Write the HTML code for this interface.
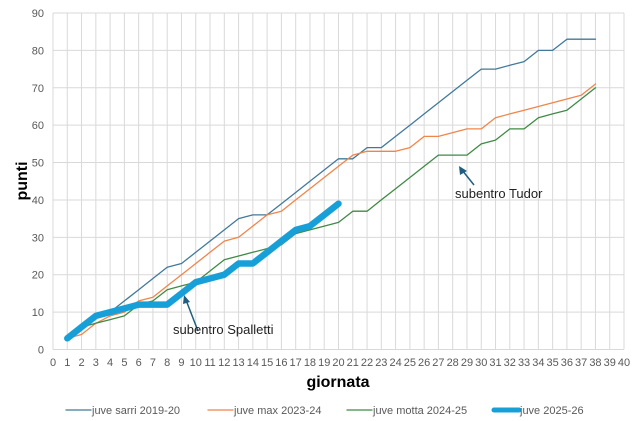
<!DOCTYPE html>
<html><head><meta charset="utf-8"><style>
body{margin:0;background:#fff;}
svg{display:block;font-family:"Liberation Sans",sans-serif;}
</style></head><body>
<svg id="c" width="640" height="421" xmlns="http://www.w3.org/2000/svg"></svg>
<script>
const s=document.getElementById('c');
const X0=53,XS=(624-53)/40,Y0=349.5,YS=(349.5-13)/90;
const px=x=>X0+x*XS, py=y=>Y0-y*YS;
let h='';
for(let i=0;i<=40;i++)h+=`<line x1="${px(i)}" y1="13" x2="${px(i)}" y2="${Y0}" stroke="#d9d9d9" stroke-width="1"/>`;
for(let j=0;j<=90;j+=10)h+=`<line x1="${X0}" y1="${py(j)}" x2="${px(40)}" y2="${py(j)}" stroke="#d9d9d9" stroke-width="1"/>`;
for(let j=0;j<=90;j+=10)h+=`<text x="${X0-9}" y="${py(j)+4}" font-size="11" fill="#595959" text-anchor="end">${j}</text>`;
for(let i=0;i<=40;i++)h+=`<text x="${px(i)}" y="366" font-size="11" fill="#595959" text-anchor="middle">${i}</text>`;
const sarri=[3,6,9,10,13,16,19,22,23,26,29,32,35,36,36,39,42,45,48,51,51,54,54,57,60,63,66,69,72,75,75,76,77,80,80,83,83,83];
const max=[3,4,7,9,10,13,14,17,20,23,26,29,30,33,36,37,40,43,46,49,52,53,53,53,54,57,57,58,59,59,62,63,64,65,66,67,68,71];
const motta=[3,6,7,8,9,12,13,16,17,18,21,24,25,26,27,28,31,32,33,34,37,37,40,43,46,49,52,52,52,55,56,59,59,62,63,64,67,70];
const now=[3,6,9,10,11,12,12,12,15,18,19,20,23,23,26,29,32,33,36,39];
const pl=(d,c,w)=>`<polyline fill="none" stroke="${c}" stroke-width="${w}" stroke-linejoin="round" stroke-linecap="round" points="${d.map((v,i)=>px(i+1).toFixed(1)+','+py(v).toFixed(1)).join(' ')}"/>`;
h+=pl(sarri,'#41799a',1.3)+pl(max,'#f0854a',1.3)+pl(motta,'#3f8a44',1.3)+pl(now,'#17a0d8',6.5);
h+=`<line x1="198" y1="331" x2="186" y2="300" stroke="#1f5f7f" stroke-width="1.5"/><polygon points="184,295 183,304 190,302" fill="#1f5f7f"/>`;
h+=`<text x="173" y="334" font-size="13" fill="#222">subentro Spalletti</text>`;
h+=`<line x1="474" y1="185" x2="462" y2="170" stroke="#1f5f7f" stroke-width="1.5"/><polygon points="459,166 460,175 467,171" fill="#1f5f7f"/>`;
h+=`<text x="455" y="198" font-size="13" fill="#222">subentro Tudor</text>`;
h+=`<text x="338" y="387" font-size="16" font-weight="bold" fill="#000" text-anchor="middle">giornata</text>`;
h+=`<text transform="translate(27,181) rotate(-90)" font-size="16" font-weight="bold" fill="#000" text-anchor="middle">punti</text>`;
const leg=[[66,'#41799a',1.3,'juve sarri 2019-20'],[208,'#f0854a',1.3,'juve max 2023-24'],[347,'#3f8a44',1.3,'juve motta 2024-25'],[494,'#17a0d8',5,'juve 2025-26']];
for(const [x,c,w,t] of leg){h+=`<line x1="${x}" y1="410" x2="${x+25}" y2="410" stroke="${c}" stroke-width="${w}" stroke-linecap="round"/><text x="${x+26}" y="414" font-size="11" fill="#595959">${t}</text>`;}
s.innerHTML=h;
</script>
</body></html>
